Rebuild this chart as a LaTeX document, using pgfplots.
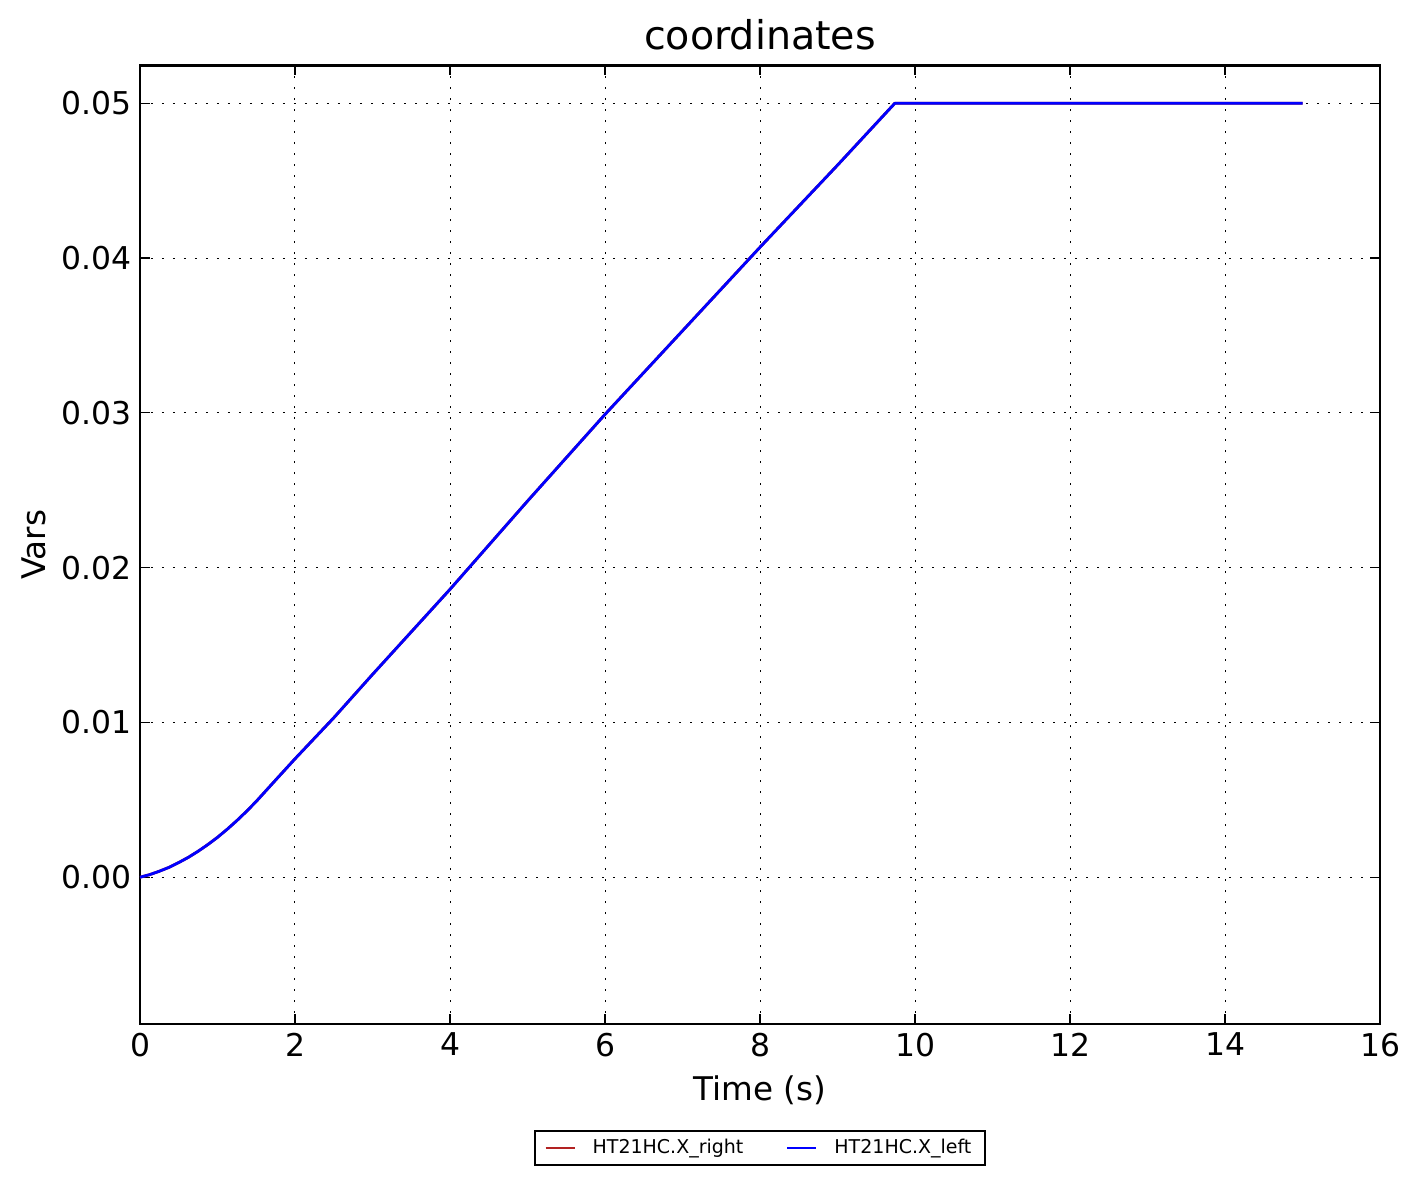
\documentclass[border=0pt]{standalone}
\usepackage{pgfplots}
\pgfplotsset{compat=1.18}
\usepackage{fontspec}
\setmainfont{DejaVu Sans}
\definecolor{serred}{RGB}{178,34,34}
\pgfplotstableread{
t y
0 0
0.125 0.00017
0.25 0.00039
0.375 0.00064
0.5 0.00095
0.625 0.00129
0.75 0.00168
0.875 0.00211
1.0 0.00258
1.125 0.00310
1.25 0.00366
1.375 0.00426
1.5 0.00490
1.625 0.00559
1.75 0.00628
2.0 0.00765
2.5 0.0103
3.0 0.0131
4.0 0.0186
5.0 0.0243
6.0 0.0299
7.0 0.0353
8.0 0.0407
9.0 0.0460
9.74 0.0500
15.0 0.0500
}\datatab
\begin{document}
\begin{tikzpicture}
\begin{axis}[
  at={(0,0)}, anchor=south west,
  scale only axis,
  width=620pt, height=479.25pt,
  xmin=0, xmax=16, ymin=-0.00948, ymax=0.05244,
  xtick={0,2,...,16},
  ytick={0,0.01,0.02,0.03,0.04,0.05},
  scaled y ticks=false,
  scaled x ticks=false,
  /pgf/number format/assume math mode=true,
  y tick label style={/pgf/number format/.cd, fixed, fixed zerofill, precision=2, /tikz/.cd, font=\fontsize{15.7}{18}\selectfont, xshift=-0.7pt},
  x tick label style={font=\fontsize{15.7}{18}\selectfont, yshift=-1pt},
  tick align=inside,
  major tick length=5pt,
  tick style={black, line width=0.6pt},
  axis line style={black, line width=1.3pt},
  grid=major,
  major grid style={black, line width=0.5pt, dash pattern=on 0.8pt off 4.7pt},
  title={coordinates},
  title style={font=\fontsize{19.8}{23}\selectfont, at={(axis description cs:0.5,1)}, anchor=base, yshift=1.8pt, inner sep=0pt},
  xlabel={Time (s)},
  xlabel style={font=\fontsize{16.3}{19}\selectfont, at={(axis description cs:0.5,-0.0803)}, anchor=base, inner sep=0pt},
  ylabel={Vars},
  ylabel style={font=\fontsize{16.3}{19}\selectfont, at={(axis description cs:-0.0859,0.5)}, rotate=0, anchor=center},
  legend columns=2,
  legend image code/.code={\draw[#1, line width=1pt] (0pt,0pt) -- (14.5pt,0pt);},
  legend style={at={(axis description cs:0.5,-0.1106)}, anchor=north, draw=black, line width=1pt, fill=white,
    font=\fontsize{9.5}{11}\selectfont,
    /tikz/every odd column/.append style={column sep=6.5pt},
    /tikz/every even column/.append style={column sep=19.5pt},
    nodes={inner sep=2pt, text height=7pt, text depth=2pt},
    inner xsep=4.7pt, inner ysep=2pt},
]
\addplot[serred, line width=1.4pt, line join=round] table[x=t, y=y] {\datatab};
\addlegendentry{HT21HC.X\_right}
\addplot[blue, line width=1.4pt, line join=round] table[x=t, y=y] {\datatab};
\addlegendentry{HT21HC.X\_left}
\end{axis}
\pgfresetboundingbox
\path[use as bounding box] (-70pt,-80.5pt) rectangle (639pt,512pt);
\end{tikzpicture}
\end{document}
